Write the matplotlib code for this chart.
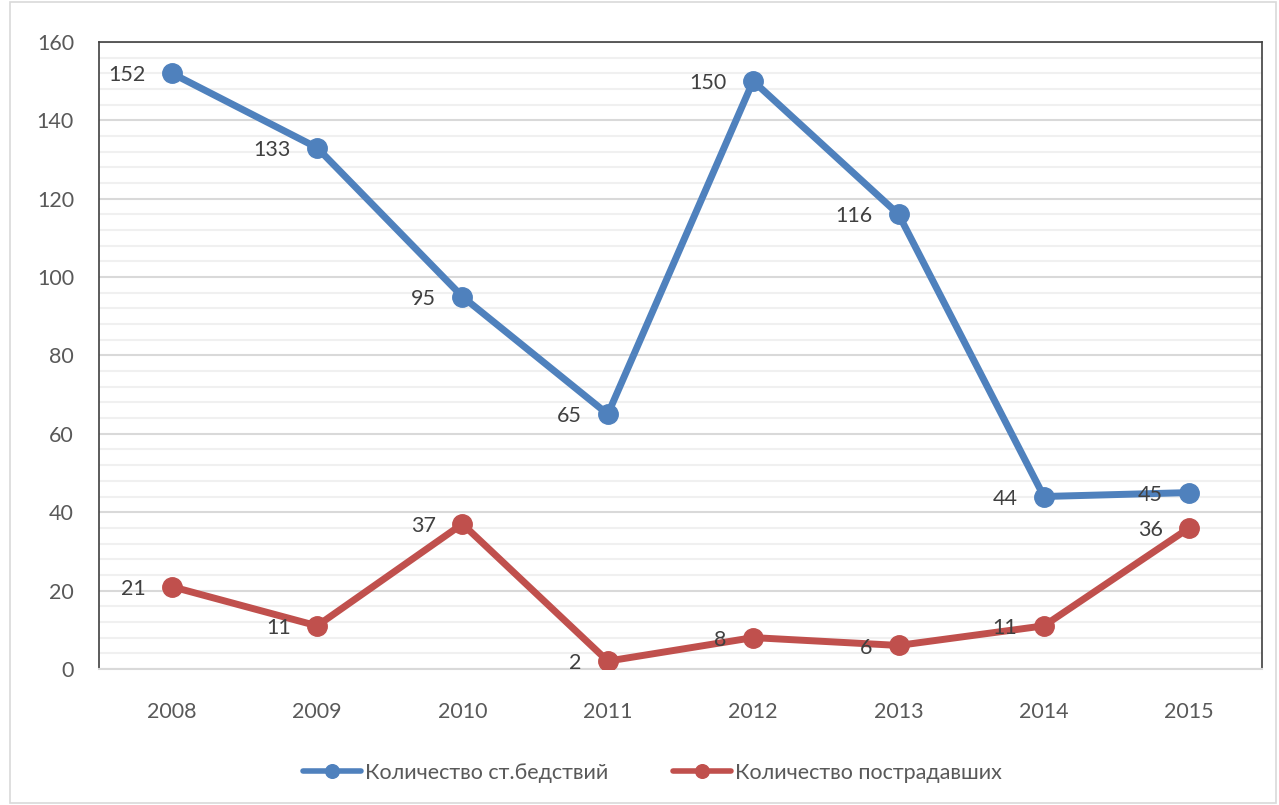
import numpy as np
import matplotlib
matplotlib.use("Agg")
from matplotlib import pyplot as plt
from matplotlib.patches import Rectangle

plt.rcParams['font.family'] = ['Lato', 'DejaVu Sans']

years = ["2008", "2009", "2010", "2011", "2012", "2013", "2014", "2015"]
disasters = [152, 133, 95, 65, 150, 116, 44, 45]
victims = [21, 11, 37, 2, 8, 6, 11, 36]

blue = "#4f81bd"
red = "#c0504d"
txt = "#404040"

fig = plt.figure(figsize=(12.79, 8.05), dpi=100)
fig.patches.append(Rectangle((0.008, 0.003), 0.99, 0.995, transform=fig.transFigure,
                             fill=False, edgecolor="#d9d9d9", linewidth=1.2))
ax = fig.add_axes([0.0774, 0.169, 0.9093, 0.779])

x = np.arange(len(years))
ax.plot(x, disasters, color=blue, lw=5, marker="o", ms=14, label="Количество ст.бедствий",
        solid_capstyle="round", zorder=3)
ax.plot(x, victims, color=red, lw=5, marker="o", ms=14, label="Количество пострадавших",
        solid_capstyle="round", zorder=3)

# data labels to the left of each point
for xi, v in zip(x, disasters):
    ax.annotate(str(v), (xi, v), xytext=(-19, -1.5), textcoords="offset points",
                ha="right", va="center", fontsize=15.5, color=txt, zorder=4)
for xi, v in zip(x, victims):
    ax.annotate(str(v), (xi, v), xytext=(-19, -1.5), textcoords="offset points",
                ha="right", va="center", fontsize=15.5, color=txt, zorder=4)

ax.set_xlim(-0.5, 7.5)
ax.set_ylim(0, 160)
ax.set_xticks(x)
ax.set_xticklabels(years)
ax.set_yticks(range(0, 161, 20))
ax.set_yticks(range(0, 161, 4), minor=True)
ax.grid(which="major", axis="y", color="#d9d9d9", lw=1.5, zorder=0)
ax.grid(which="minor", axis="y", color="#f0f0f0", lw=1.5, zorder=0)
ax.tick_params(which="both", length=0)
ax.tick_params(axis="x", pad=24, labelsize=15.5, labelcolor="#595959")
ax.tick_params(axis="y", pad=18, labelsize=15.5, labelcolor="#595959")
for s in ["left", "top", "right"]:
    ax.spines[s].set_color("#404040")
    ax.spines[s].set_linewidth(1.2)
ax.spines["bottom"].set_color("#d9d9d9")
ax.spines["bottom"].set_linewidth(1.5)

leg = fig.legend(loc="center", bbox_to_anchor=(0.51, 0.04), ncol=2, frameon=False,
                 fontsize=15.5, handlelength=2.7, columnspacing=3.0, handletextpad=0.2,
                 markerscale=0.7)
for t in leg.get_texts():
    t.set_color("#595959")
for h in leg.legend_handles:
    h.set_linewidth(4)

fig.savefig("out.png", dpi=100)
